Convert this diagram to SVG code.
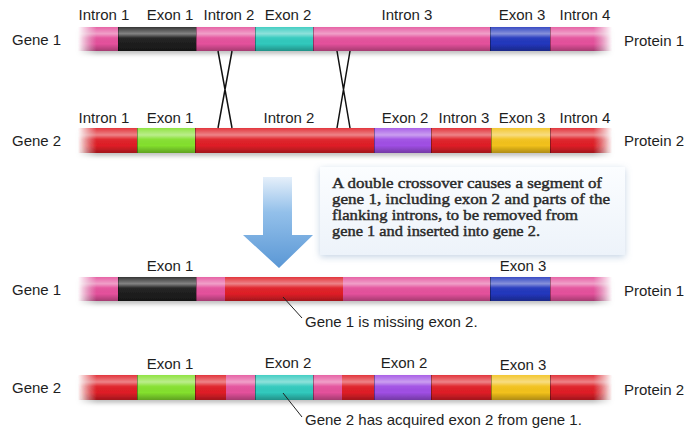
<svg xmlns="http://www.w3.org/2000/svg" width="684" height="429" viewBox="0 0 684 429">
<style>
.lbl{font-family:"Liberation Sans",Arial,sans-serif;font-size:15px;fill:#1e1e1e}
.mid{text-anchor:middle}
.box{font-family:"Liberation Serif","Times New Roman",serif;font-size:15.5px;fill:#2a2a2a;stroke:#2a2a2a;stroke-width:.45}
.pk{fill:#e4519c}.bk{fill:#1f1f1f}.cy{fill:#30c9bd}.bl{fill:#2337bd}
.rd{fill:#df1f27}.gr{fill:#84e02e}.pu{fill:#a04fe4}.ye{fill:#f2c11b}
.edge{stroke:#000;stroke-opacity:.35;stroke-width:1;fill:none}
.cross{stroke:#111;stroke-width:1.5;fill:none}
.lead{stroke:#222;stroke-width:1;fill:none}
</style>
<defs>
<linearGradient id="shade" x1="0" y1="0" x2="0" y2="1">
<stop offset="0" stop-color="#fff" stop-opacity=".1"/>
<stop offset=".28" stop-color="#fff" stop-opacity=".45"/>
<stop offset=".45" stop-color="#fff" stop-opacity=".05"/>
<stop offset=".7" stop-color="#000" stop-opacity="0"/>
<stop offset="1" stop-color="#000" stop-opacity=".28"/>
</linearGradient>
<linearGradient id="fadeg" x1="0" y1="0" x2="1" y2="0">
<stop offset="0" stop-color="#000"/>
<stop offset=".035" stop-color="#fff"/>
<stop offset=".965" stop-color="#fff"/>
<stop offset="1" stop-color="#000"/>
</linearGradient>
<mask id="fade" maskContentUnits="objectBoundingBox">
<rect x="0" y="0" width="1" height="1" fill="url(#fadeg)"/>
</mask>
<filter id="sh" x="-5%" y="-50%" width="110%" height="220%">
<feDropShadow dx="0" dy="3" stdDeviation="2" flood-color="#000" flood-opacity=".25"/>
</filter>
<filter id="boxsh" x="-10%" y="-20%" width="120%" height="140%">
<feDropShadow dx="0" dy="2" stdDeviation="3.5" flood-color="#7f9fc4" flood-opacity=".45"/>
</filter>
<linearGradient id="boxg" x1="0" y1="0" x2="0" y2="1">
<stop offset="0" stop-color="#fbfdff"/>
<stop offset="1" stop-color="#edf3fa"/>
</linearGradient>
<linearGradient id="arrg" gradientUnits="userSpaceOnUse" x1="0" y1="175" x2="0" y2="268">
<stop offset="0" stop-color="#eaf2fb"/>
<stop offset=".4" stop-color="#93c0ea"/>
<stop offset="1" stop-color="#5a97d5"/>
</linearGradient>
</defs>
<rect width="684" height="429" fill="#fff"/>

<!-- Gene 1 (before) -->
<g id="gene1-top">
<g filter="url(#sh)"><g mask="url(#fade)">
<rect class="pk" x="78" y="27" width="40" height="24"/>
<rect class="bk" x="118" y="27" width="78" height="24"/>
<rect class="pk" x="196" y="27" width="59" height="24"/>
<rect class="cy" x="255" y="27" width="58" height="24"/>
<rect class="pk" x="313" y="27" width="177" height="24"/>
<rect class="bl" x="490" y="27" width="60" height="24"/>
<rect class="pk" x="550" y="27" width="62" height="24"/>
<rect x="78" y="27" width="534" height="24" fill="url(#shade)"/>
<path class="edge" d="M118.5 27v24M196.5 27v24M255.5 27v24M313.5 27v24M490.5 27v24M550.5 27v24"/>
</g></g>
<text class="lbl" x="12" y="45">Gene 1</text>
<text class="lbl" x="624" y="46">Protein 1</text>
<text class="lbl mid" x="104" y="20">Intron 1</text>
<text class="lbl mid" x="170" y="20">Exon 1</text>
<text class="lbl mid" x="229" y="20">Intron 2</text>
<text class="lbl mid" x="288" y="20">Exon 2</text>
<text class="lbl mid" x="407" y="20">Intron 3</text>
<text class="lbl mid" x="522" y="20">Exon 3</text>
<text class="lbl mid" x="585" y="20">Intron 4</text>
</g>

<!-- Gene 2 (before) -->
<g id="gene2-top">
<g filter="url(#sh)"><g mask="url(#fade)">
<rect class="rd" x="78" y="128" width="59" height="25"/>
<rect class="gr" x="137" y="128" width="58" height="25"/>
<rect class="rd" x="195" y="128" width="179" height="25"/>
<rect class="pu" x="374" y="128" width="57" height="25"/>
<rect class="rd" x="431" y="128" width="60" height="25"/>
<rect class="ye" x="491" y="128" width="59" height="25"/>
<rect class="rd" x="550" y="128" width="62" height="25"/>
<rect x="78" y="128" width="534" height="25" fill="url(#shade)"/>
<path class="edge" d="M137.5 128v25M195.5 128v25M374.5 128v25M431.5 128v25M491.5 128v25M550.5 128v25"/>
</g></g>
<text class="lbl" x="12" y="146">Gene 2</text>
<text class="lbl" x="624" y="146">Protein 2</text>
<text class="lbl mid" x="104" y="123">Intron 1</text>
<text class="lbl mid" x="170" y="123">Exon 1</text>
<text class="lbl mid" x="289" y="123">Intron 2</text>
<text class="lbl mid" x="405" y="123">Exon 2</text>
<text class="lbl mid" x="464" y="123">Intron 3</text>
<text class="lbl mid" x="522" y="123">Exon 3</text>
<text class="lbl mid" x="585" y="123">Intron 4</text>
</g>

<!-- Arrow -->
<g id="arrow">
<path d="M263 177H292V235H313L279 268L243 235H263Z" fill="url(#arrg)"/>
</g>

<!-- Callout box -->
<g id="callout">
<rect x="320" y="167" width="305" height="88" fill="url(#boxg)" filter="url(#boxsh)"/>
<text class="box" x="332" y="188" textLength="270" lengthAdjust="spacingAndGlyphs">A double crossover causes a segment of</text>
<text class="box" x="332" y="204" textLength="278" lengthAdjust="spacingAndGlyphs">gene 1, including exon 2 and parts of the</text>
<text class="box" x="332" y="220" textLength="246" lengthAdjust="spacingAndGlyphs">flanking introns, to be removed from</text>
<text class="box" x="332" y="236" textLength="208" lengthAdjust="spacingAndGlyphs">gene 1 and inserted into gene 2.</text>
</g>

<!-- Gene 1 (after) -->
<g id="gene1-bottom">
<g filter="url(#sh)"><g mask="url(#fade)">
<rect class="pk" x="78" y="277" width="40" height="24"/>
<rect class="bk" x="118" y="277" width="78" height="24"/>
<rect class="pk" x="196" y="277" width="29" height="24"/>
<rect class="rd" x="225" y="277" width="118" height="24"/>
<rect class="pk" x="343" y="277" width="147" height="24"/>
<rect class="bl" x="490" y="277" width="60" height="24"/>
<rect class="pk" x="550" y="277" width="62" height="24"/>
<rect x="78" y="277" width="534" height="24" fill="url(#shade)"/>
<path class="edge" d="M118.5 277v24M196.5 277v24M490.5 277v24M550.5 277v24"/>
</g></g>
<text class="lbl" x="12" y="295">Gene 1</text>
<text class="lbl" x="624" y="296">Protein 1</text>
<text class="lbl mid" x="170" y="271">Exon 1</text>
<text class="lbl mid" x="523" y="271">Exon 3</text>
<text class="lbl" x="305" y="327">Gene 1 is missing exon 2.</text>
</g>

<!-- Gene 2 (after) -->
<g id="gene2-bottom">
<g filter="url(#sh)"><g mask="url(#fade)">
<rect class="rd" x="78" y="375" width="59" height="25"/>
<rect class="gr" x="137" y="375" width="58" height="25"/>
<rect class="rd" x="195" y="375" width="31" height="25"/>
<rect class="pk" x="226" y="375" width="29" height="25"/>
<rect class="cy" x="255" y="375" width="58" height="25"/>
<rect class="pk" x="313" y="375" width="29" height="25"/>
<rect class="rd" x="342" y="375" width="32" height="25"/>
<rect class="pu" x="374" y="375" width="57" height="25"/>
<rect class="rd" x="431" y="375" width="60" height="25"/>
<rect class="ye" x="491" y="375" width="59" height="25"/>
<rect class="rd" x="550" y="375" width="62" height="25"/>
<rect x="78" y="375" width="534" height="25" fill="url(#shade)"/>
<path class="edge" d="M137.5 375v25M195.5 375v25M255.5 375v25M313.5 375v25M374.5 375v25M431.5 375v25M491.5 375v25M550.5 375v25"/>
</g></g>
<text class="lbl" x="12" y="393">Gene 2</text>
<text class="lbl" x="624" y="395">Protein 2</text>
<text class="lbl mid" x="170" y="369">Exon 1</text>
<text class="lbl mid" x="288" y="368">Exon 2</text>
<text class="lbl mid" x="404" y="368">Exon 2</text>
<text class="lbl mid" x="523" y="370">Exon 3</text>
<text class="lbl" x="305" y="425">Gene 2 has acquired exon 2 from gene 1.</text>
</g>

<!-- Connectors -->
<g id="connectors">
<path class="cross" d="M218 51L232 128M232 51L218 128"/>
<path class="cross" d="M337 51L350 128M350 51L337 128"/>
<path class="lead" d="M283 297L302 318"/>
<path class="lead" d="M283 393L302 417"/>
</g>
</svg>
